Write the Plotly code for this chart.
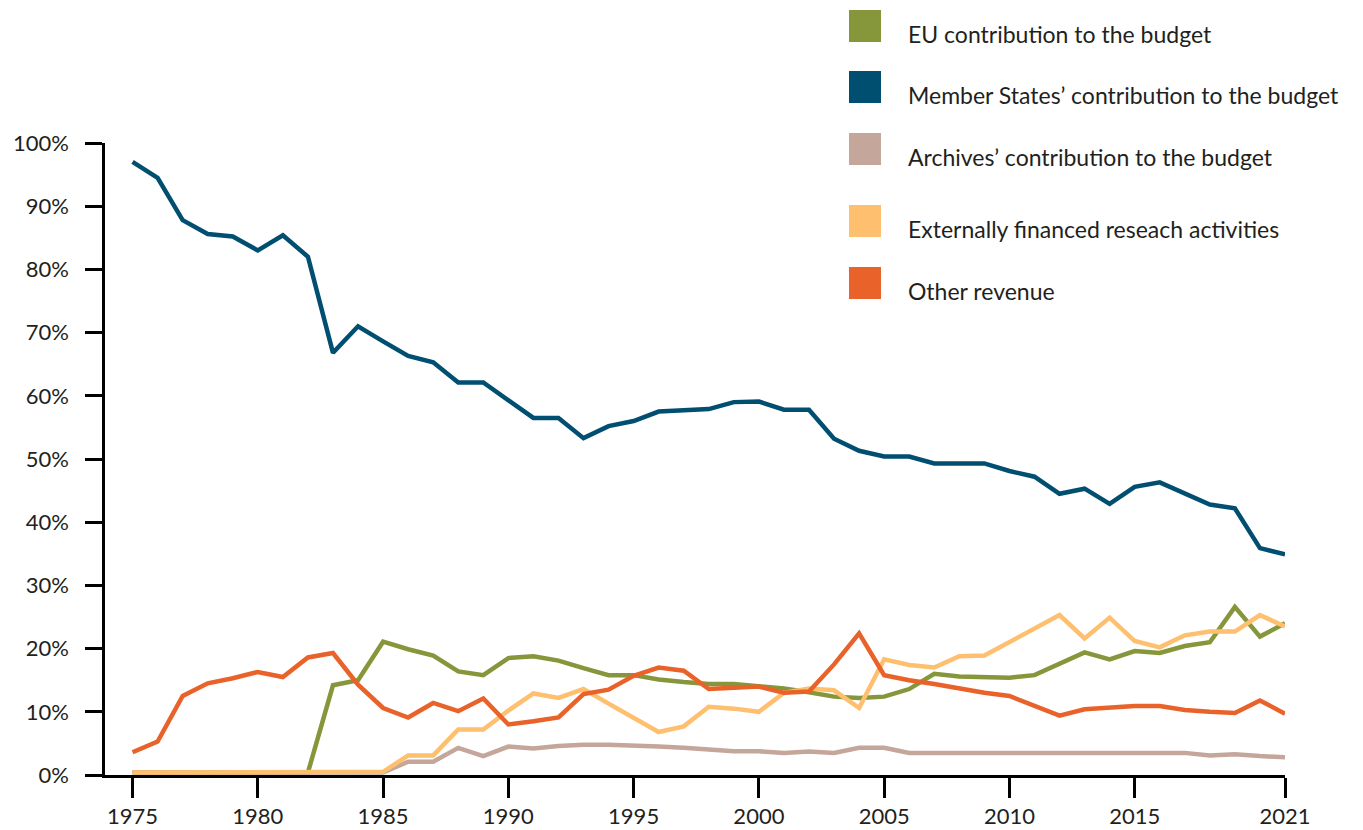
import plotly.graph_objects as go

years = list(range(1975, 2022))

series_names = [
    "EU contribution to the budget",
    "Member States\u2019 contribution to the budget",
    "Archives\u2019 contribution to the budget",
    "Externally financed reseach activities",
    "Other revenue",
]
series_colors = ["#86963A", "#004F71", "#C4A69A", "#FEBF6E", "#E8622A"]

eu = [0.4, 0.4, 0.4, 0.4, 0.4, 0.4, 0.4, 0.4, 14.2, 15.0, 21.1, 19.9, 18.9, 16.4, 15.8,
      18.5, 18.8, 18.1, 16.9, 15.8, 15.8, 15.1, 14.7, 14.4, 14.4, 14.0, 13.7, 13.1, 12.4,
      12.2, 12.4, 13.6, 16.0, 15.6, 15.5, 15.4, 15.8, 17.6, 19.4, 18.3, 19.6, 19.3, 20.4,
      21.0, 26.6, 21.9, 24.0]
member_states = [97.0, 94.5, 87.8, 85.6, 85.2, 83.0, 85.4, 82.0, 66.8, 71.0, 68.6, 66.3,
                 65.3, 62.1, 62.1, 59.2, 56.5, 56.5, 53.3, 55.2, 56.0, 57.5, 57.7, 57.9,
                 59.0, 59.1, 57.8, 57.8, 53.2, 51.3, 50.4, 50.4, 49.3, 49.3, 49.3, 48.1,
                 47.2, 44.5, 45.3, 42.9, 45.6, 46.3, 44.6, 42.8, 42.2, 35.9, 34.9]
archives = [0.4, 0.4, 0.4, 0.4, 0.4, 0.4, 0.4, 0.4, 0.4, 0.4, 0.4, 2.1, 2.1, 4.3, 3.0,
            4.5, 4.2, 4.6, 4.8, 4.8, 4.7, 4.5, 4.3, 4.0, 3.75, 3.75, 3.5, 3.7, 3.5, 4.3,
            4.3, 3.5, 3.5, 3.5, 3.5, 3.5, 3.5, 3.5, 3.5, 3.5, 3.5, 3.5, 3.5, 3.1, 3.3,
            3.0, 2.8]
external = [0.4, 0.4, 0.4, 0.4, 0.4, 0.4, 0.4, 0.4, 0.4, 0.4, 0.5, 3.1, 3.1, 7.2, 7.2,
            10.2, 12.9, 12.2, 13.6, 11.3, 9.1, 6.8, 7.7, 10.8, 10.5, 10.0, 13.0, 13.7,
            13.4, 10.6, 18.3, 17.4, 17.0, 18.8, 18.9, 21.0, 23.2, 25.3, 21.6, 24.9, 21.2,
            20.2, 22.1, 22.7, 22.7, 25.3, 23.5]
other = [3.6, 5.3, 12.5, 14.5, 15.3, 16.3, 15.5, 18.6, 19.3, 14.3, 10.6, 9.1, 11.4, 10.1,
         12.1, 8.0, 8.5, 9.1, 12.8, 13.5, 15.7, 17.0, 16.5, 13.6, 13.8, 14.0, 13.0, 13.2,
         17.5, 22.4, 15.8, 15.0, 14.4, 13.7, 13.0, 12.5, 11.0, 9.4, 10.4, 10.7, 10.9,
         10.9, 10.3, 10.0, 9.8, 11.8, 9.7]

series_values = [eu, member_states, archives, external, other]

x_tick_years = [1975, 1980, 1985, 1990, 1995, 2000, 2005, 2010, 2015, 2021]
y_ticks = list(range(0, 101, 10))

FONT = "Lato, 'Open Sans', sans-serif"
TEXT = "#231F20"

fig = go.Figure()
for name, color, vals in zip(series_names, series_colors, series_values):
    fig.add_trace(go.Scatter(x=years, y=vals, name=name, mode="lines",
                             line=dict(color=color, width=4.5), showlegend=False))

# The page body adds an 8px offset; figure sized so it fits the window.
OFF = 8
W, H = 1355, 822
L, T = 97, 135
R = W - (1285 - OFF)
B = H - (775 - OFF)
pw, ph = W - L - R, H - T - B


def px_x(px):
    return (px - OFF - L) / pw


def px_y(py):
    return (H - B - (py - OFF)) / ph


sq_tops = [10, 71, 133, 205, 267]
for i, (name, color) in enumerate(zip(series_names, series_colors)):
    top = sq_tops[i]
    fig.add_shape(type="rect", xref="paper", yref="paper",
                  x0=px_x(849), x1=px_x(881), y0=px_y(top + 32), y1=px_y(top),
                  fillcolor=color, line=dict(width=0))
    fig.add_annotation(xref="paper", yref="paper", x=px_x(906), y=px_y(top + 24),
                       xanchor="left", yanchor="middle", text=name, showarrow=False,
                       font=dict(family=FONT, size=23, color=TEXT))

fig.update_layout(
    width=W, height=H,
    margin=dict(l=L, r=R, t=T, b=B, autoexpand=False),
    paper_bgcolor="white", plot_bgcolor="white",
    font=dict(family=FONT, size=22, color=TEXT),
    xaxis=dict(range=[1973.9, 2021], tickvals=x_tick_years,
               ticktext=[str(y) for y in x_tick_years], automargin=False,
               showline=True, linecolor="black", linewidth=2.5,
               ticks="outside", ticklen=20, tickwidth=2.5, tickcolor="black",
               showgrid=False, zeroline=False,
               tickfont=dict(family=FONT, size=22, color=TEXT)),
    yaxis=dict(range=[0, 100], tickvals=y_ticks,
               ticktext=[f"{v}%" for v in y_ticks], automargin=False,
               showline=True, linecolor="black", linewidth=2.5,
               ticks="outside", ticklen=17, tickwidth=2.5, tickcolor="black",
               showgrid=False, zeroline=False, ticklabelstandoff=12,
               tickfont=dict(family=FONT, size=22, color=TEXT)),
)

fig.write_html("out.html")
